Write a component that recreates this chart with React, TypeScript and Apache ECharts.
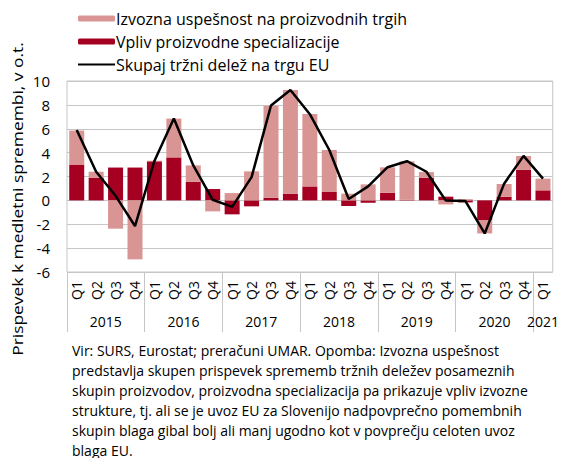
import React, { useEffect, useRef } from "react";
import * as echarts from "echarts";

const quarters = [
  "Q1","Q2","Q3","Q4","Q1","Q2","Q3","Q4","Q1","Q2","Q3","Q4",
  "Q1","Q2","Q3","Q4","Q1","Q2","Q3","Q4","Q1","Q2","Q3","Q4","Q1",
];
const years = ["2015", "2016", "2017", "2018", "2019", "2020", "2021"];
const quartersPerYear = [4, 4, 4, 4, 4, 4, 1];

const performance = [
  2.85, 0.5, -2.37, -4.94, 0.05, 3.25, 1.37, -0.92, 0.61, 2.43, 7.71, 8.69,
  6.06, 3.52, 0.56, 1.34, 2.13, 3.22, 0.47, -0.34, 0.1, -1.09, 1.06, 1.15, 0.98,
];
const specialization = [
  3.0, 1.9, 2.75, 2.75, 3.27, 3.6, 1.56, 0.95, -1.17, -0.5, 0.22, 0.56,
  1.17, 0.7, -0.47, -0.2, 0.64, 0.05, 1.9, 0.31, -0.17, -1.68, 0.31, 2.57, 0.84,
];
const totalShare = [
  5.9, 2.4, 0.38, -2.15, 3.3, 6.85, 2.93, 0.05, -0.55, 1.95, 7.95, 9.25,
  7.22, 4.22, 0.12, 1.17, 2.78, 3.28, 2.4, -0.02, -0.05, -2.77, 1.4, 3.73, 1.82,
];

const seriesNames = [
  "Izvozna uspešnost na proizvodnih trgih",
  "Vpliv proizvodne specializacije",
  "Skupaj tržni delež na trgu EU",
];
const yAxisTitle = "Prispevek k medletni spremembi, v o.t.";
const footnote = [
  "Vir: SURS, Eurostat; preračuni UMAR. Opomba: Izvozna uspešnost",
  "predstavlja skupen prispevek sprememb tržnih deležev posameznih",
  "skupin proizvodov, proizvodna specializacija pa prikazuje vpliv izvozne",
  "strukture, tj. ali se je uvoz EU za Slovenijo nadpovprečno pomembnih",
  "skupin blaga gibal bolj ali manj ugodno kot v povprečju celoten uvoz",
  "blaga EU.",
];

const FONT = "Open Sans";
const LIGHT = "#D99594";
const DARK = "#A50021";
const GRID = "#C6C6C6";

export default function App() {
  const ref = useRef<HTMLDivElement>(null);
  useEffect(() => {
    document.body.style.margin = "0";
    if (!ref.current) return;
    const chart = echarts.init(ref.current, null, { renderer: "svg" });

    const boundaries: number[] = [];
    const centers: number[] = [];
    let acc = 0;
    quartersPerYear.forEach((n) => {
      boundaries.push(acc);
      centers.push(acc + n / 2);
      acc += n;
    });
    const total = acc;

    chart.setOption({
      animation: false,
      textStyle: { fontFamily: FONT, color: "#000" },
      legend: {
        left: 72,
        top: 5,
        orient: "vertical",
        itemWidth: 37,
        itemHeight: 6,
        itemGap: 6,
        textStyle: {
          fontFamily: FONT,
          fontSize: 16,
          lineHeight: 17,
          color: "#000",
          padding: [0, 0, 0, -4],
        },
        data: [
          { name: seriesNames[0] },
          { name: seriesNames[1] },
          { name: seriesNames[2], itemStyle: { opacity: 0 } },
        ],
      },
      grid: {
        left: 67,
        right: 4,
        top: 81,
        bottom: 186,
        show: true,
        borderColor: GRID,
        borderWidth: 1,
      },
      xAxis: [
        {
          type: "category",
          data: quarters,
          position: "bottom",
          axisLine: { show: true, lineStyle: { color: GRID } },
          axisTick: { show: false },
          axisLabel: {
            rotate: 90,
            margin: 9,
            fontSize: 14,
            color: "#000",
            fontFamily: FONT,
          },
        },
        {
          type: "value",
          min: 0,
          max: total,
          position: "bottom",
          axisLine: { show: false },
          splitLine: { show: false },
          axisTick: {
            show: true,
            customValues: boundaries,
            length: 60,
            lineStyle: { color: GRID },
          },
          axisLabel: {
            customValues: centers,
            margin: 42,
            fontSize: 14,
            color: "#000",
            fontFamily: FONT,
            formatter: (v: number) => {
              const i = centers.findIndex((c) => Math.abs(c - v) < 1e-6);
              return i >= 0 ? years[i] : "";
            },
          },
        },
      ],
      yAxis: {
        type: "value",
        min: -6,
        max: 10,
        interval: 2,
        axisLine: { show: false },
        axisTick: { show: false },
        splitLine: { show: true, lineStyle: { color: GRID } },
        axisLabel: { fontSize: 15, margin: 17, color: "#000", fontFamily: FONT },
      },
      series: [
        {
          name: seriesNames[1],
          type: "bar",
          stack: "s",
          barWidth: 15,
          xAxisIndex: 0,
          itemStyle: { color: DARK },
          data: specialization,
        },
        {
          name: seriesNames[0],
          type: "bar",
          stack: "s",
          barWidth: 15,
          xAxisIndex: 0,
          itemStyle: { color: LIGHT },
          data: performance,
        },
        {
          name: seriesNames[2],
          type: "line",
          xAxisIndex: 0,
          symbol: "none",
          showSymbol: false,
          lineStyle: { color: "#000", width: 2.5 },
          itemStyle: { color: "#000" },
          data: totalShare,
        },
      ],
      graphic: [
        {
          type: "text",
          x: 17,
          y: 199,
          rotation: Math.PI / 2,
          scaleX: 1.16,
          style: {
            text: yAxisTitle,
            fontFamily: FONT,
            fontSize: 15,
            fill: "#000",
            align: "center",
            verticalAlign: "middle",
          },
        },
        {
          type: "text",
          left: 72,
          top: 340,
          style: {
            text: footnote.join("\n"),
            fontFamily: FONT,
            fontSize: 14,
            lineHeight: 20,
            fill: "#000",
          },
        },
      ],
    });
    return () => chart.dispose();
  }, []);
  return <div ref={ref} style={{ width: 562, height: 458 }} />;
}
